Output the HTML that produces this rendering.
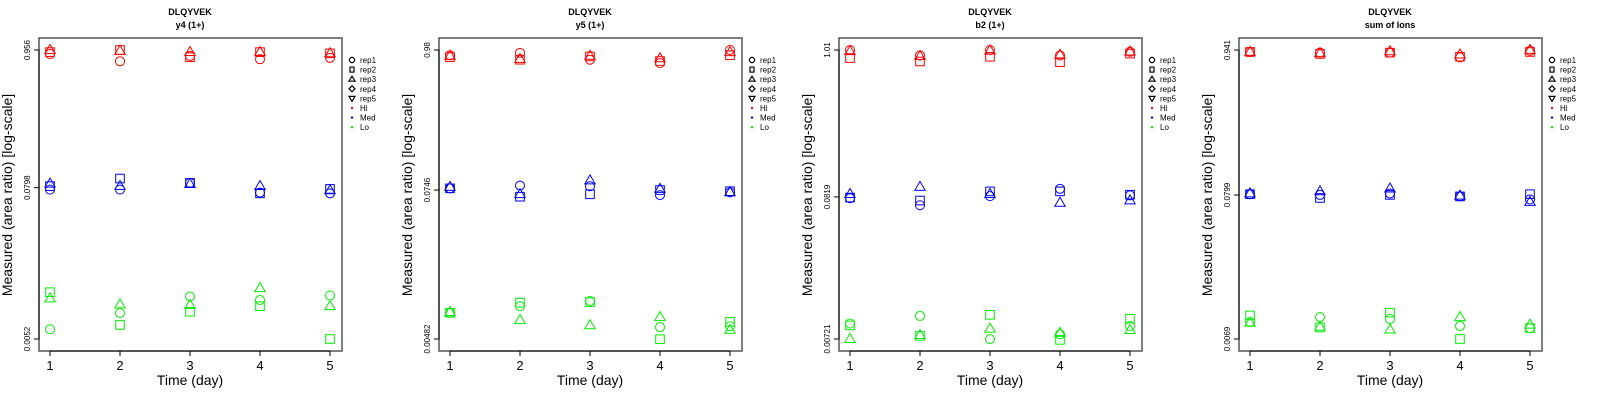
<!DOCTYPE html>
<html><head><meta charset="utf-8"><style>
html,body{margin:0;padding:0;background:#fff;}
svg{display:block;font-family:"Liberation Sans",sans-serif;}
</style></head><body>
<svg id="chart" width="1600" height="400" viewBox="0 0 1600 400" xmlns="http://www.w3.org/2000/svg"></svg>
<script>
const days = [1, 2, 3, 4, 5];
const panelTitles = ["y4 (1+)", "y5 (1+)", "b2 (1+)", "sum of Ions"];
const peptide = "DLQYVEK";
const yMaxTicks = [0.956, 0.98, 1.01, 0.941];
const yMidTicks = [0.0798, 0.0746, 0.0819, 0.0799];
const yMinTicks = [0.0052, 0.00482, 0.00721, 0.0069];
const yMaxLabels = ["0.956", "0.98", "1.01", "0.941"];
const yMidLabels = ["0.0798", "0.0746", "0.0819", "0.0799"];
const yMinLabels = ["0.0052", "0.00482", "0.00721", "0.0069"];
const levels = ["Hi", "Med", "Lo"];
const reps = ["rep1", "rep2", "rep3"];
// values[panel][level][rep][day]
const p1Hi = [[0.89,0.78,0.86,0.81,0.83],[0.92,0.956,0.84,0.92,0.90],[0.956,0.94,0.92,0.92,0.90]];
const p1Med = [[0.077,0.077,0.087,0.073,0.072],[0.082,0.094,0.087,0.072,0.078],[0.0857,0.082,0.085,0.082,0.076]];
const p1Lo = [[0.0062,0.0083,0.0112,0.0105,0.0114],[0.0121,0.0067,0.0085,0.0094,0.0052],[0.0108,0.0097,0.0096,0.0130,0.0094]];
const p2Hi = [[0.89,0.93,0.82,0.77,0.98],[0.86,0.82,0.87,0.80,0.89],[0.88,0.83,0.88,0.84,0.94]];
const p2Med = [[0.077,0.081,0.080,0.068,0.0715],[0.077,0.066,0.069,0.0746,0.073],[0.079,0.069,0.089,0.076,0.0715]];
const p2Lo = [[0.0078,0.0088,0.0097,0.0060,0.0061],[0.0078,0.0094,0.0095,0.0048,0.0066],[0.0079,0.0068,0.0062,0.0072,0.0057]];
const p3Hi = [[1.01,0.92,1.01,0.92,0.98],[0.88,0.83,0.90,0.82,0.95],[0.99,0.91,1.0,0.93,0.98]];
const p3Med = [[0.080,0.071,0.083,0.094,0.084],[0.081,0.077,0.090,0.090,0.085],[0.086,0.097,0.086,0.074,0.077]];
const p3Lo = [[0.0094,0.0107,0.0072,0.0078,0.0090],[0.0091,0.0076,0.0109,0.0071,0.0102],[0.0072,0.0077,0.0086,0.0080,0.0084]];
const p4Hi = [[0.91,0.90,0.90,0.83,0.93],[0.91,0.88,0.90,0.84,0.91],[0.91,0.89,0.92,0.87,0.941]];
const p4Med = [[0.081,0.080,0.082,0.078,0.074],[0.081,0.076,0.080,0.078,0.081],[0.082,0.085,0.089,0.079,0.071]];
const p4Lo = [[0.0092,0.0100,0.0097,0.0086,0.0083],[0.0103,0.0084,0.0108,0.0069,0.0083],[0.0091,0.0085,0.0081,0.0100,0.0088]];
const panelData = [[p1Hi,p1Med,p1Lo],[p2Hi,p2Med,p2Lo],[p3Hi,p3Med,p3Lo],[p4Hi,p4Med,p4Lo]];
const levelColors = ["#ff0000", "#0000ff", "#00ee00"];

const svg = document.getElementById('chart');
const NS = "http://www.w3.org/2000/svg";
function mk(tag, attrs, parent) {
  const e = document.createElementNS(NS, tag);
  for (const k in attrs) e.setAttribute(k, attrs[k]);
  (parent || svg).appendChild(e);
  return e;
}
function txt(s, attrs, parent) { const e = mk('text', attrs, parent); e.textContent = s; return e; }

function marker(shape, cx, cy, color, g) {
  let e;
  if (shape === 0) e = mk('circle', {cx: cx, cy: cy, r: 4.5, fill: 'none', stroke: color, 'stroke-width': 1}, g);
  else if (shape === 1) e = mk('rect', {x: cx - 4.3, y: cy - 4.3, width: 8.6, height: 8.6, fill: 'none', stroke: color, 'stroke-width': 1}, g);
  else e = mk('polygon', {points: `${cx},${cy-5.6} ${cx+5.2},${cy+3.4} ${cx-5.2},${cy+3.4}`, fill: 'none', stroke: color, 'stroke-width': 1}, g);
  return e;
}

for (let p = 0; p < 4; p++) {
  const ox = p * 400;
  const g = mk('g', {});
  
  
  const vmax = yMaxTicks[p], vmin = yMinTicks[p];
  const xs = d => ox + 50 + (d - 1) * 70;
  const ys = v => 50 + 289 * Math.log(vmax / v) / Math.log(vmax / vmin);

  const t1 = txt(peptide, {x: ox + 190, y: 15, 'font-size': 9, 'font-weight': 'bold', 'text-anchor': 'middle'}, g);
  
  
  const t2 = txt(panelTitles[p], {x: ox + 190, y: 28, 'font-size': 9, 'font-weight': 'bold', 'text-anchor': 'middle'}, g);
  
  

  const box = mk('rect', {x: ox + 39, y: 38, width: 303, height: 313, fill: 'none', stroke: '#555', 'stroke-width': 1.5}, g);
  
  

  // x axis
  mk('line', {x1: xs(1), y1: 351, x2: xs(5), y2: 351, stroke: '#000', 'stroke-width': 1}, g);
  days.forEach(d => {
    mk('line', {x1: xs(d), y1: 351, x2: xs(d), y2: 356, stroke: '#000', 'stroke-width': 1}, g);
    const tl = txt(String(d), {x: xs(d), y: 370, 'font-size': 13, 'text-anchor': 'middle'}, g);
    
    
  });
  const xt = txt('Time (day)', {x: ox + 190, y: 385, 'font-size': 14, 'text-anchor': 'middle'}, g);
  
  

  // y axis
  const yt = [yMaxTicks[p], yMidTicks[p], yMinTicks[p]];
  const yl = [yMaxLabels[p], yMidLabels[p], yMinLabels[p]];
  mk('line', {x1: ox + 39, y1: ys(yt[0]), x2: ox + 39, y2: ys(yt[2]), stroke: '#000', 'stroke-width': 1}, g);
  yt.forEach((v, i) => {
    const yy = ys(v);
    mk('line', {x1: ox + 34, y1: yy, x2: ox + 39, y2: yy, stroke: '#000', 'stroke-width': 1}, g);
    const lab = txt(yl[i], {x: ox + 30, y: yy, 'font-size': 8, 'text-anchor': 'middle', transform: `rotate(-90 ${ox + 30} ${yy})`}, g);
    
    
  });
  const ytt = txt('Measured (area ratio) [log-scale]', {x: ox + 12, y: 195, 'font-size': 14, 'text-anchor': 'middle', transform: `rotate(-90 ${ox + 12} 195)`}, g);
  
  

  // points
  for (let l = 0; l < 3; l++) {
    for (let r = 0; r < 3; r++) {
      const vals = panelData[p][l][r];
      days.forEach((d, i) => {
        const m = marker(r, xs(d), ys(vals[i]), levelColors[l], g);
        
        
      });
    }
  }

  // legend
  const lg = mk('g', {}, g);
  
  
  const lx = ox + 352, ly0 = 60, dy = 9.6;
  const legendLabels = ["rep1", "rep2", "rep3", "rep4", "rep5", "Hi", "Med", "Lo"];
  legendLabels.forEach((s, i) => {
    const yy = ly0 + i * dy;
    if (i === 0) mk('circle', {cx: lx, cy: yy, r: 2.6, fill: 'none', stroke: '#000', 'stroke-width': 1.2}, lg);
    else if (i === 1) mk('rect', {x: lx - 2, y: yy - 2.5, width: 4, height: 5, fill: 'none', stroke: '#000', 'stroke-width': 1.2}, lg);
    else if (i === 2) mk('polygon', {points: `${lx},${yy-3} ${lx+3},${yy+2} ${lx-3},${yy+2}`, fill: 'none', stroke: '#000', 'stroke-width': 1.2}, lg);
    else if (i === 3) mk('polygon', {points: `${lx},${yy-3} ${lx+3},${yy} ${lx},${yy+3} ${lx-3},${yy}`, fill: 'none', stroke: '#000', 'stroke-width': 1.2}, lg);
    else if (i === 4) mk('polygon', {points: `${lx},${yy+3} ${lx+3},${yy-2} ${lx-3},${yy-2}`, fill: 'none', stroke: '#000', 'stroke-width': 1.2}, lg);
    else mk('circle', {cx: lx, cy: yy, r: 1.2, fill: levelColors[i - 5]}, lg);
    const et = txt(s, {x: lx + 8, y: yy + 3, 'font-size': 8}, lg);
    
    
  });
}
</script>
</body></html>
